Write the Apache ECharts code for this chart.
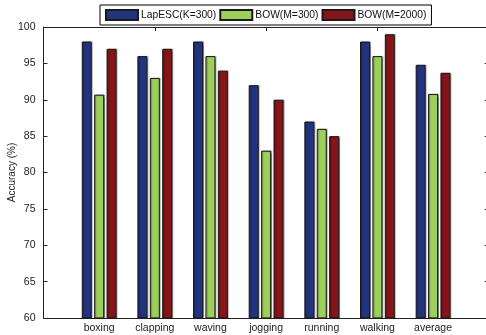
<!DOCTYPE html>
<html>
<head>
<meta charset="utf-8">
<script src="https://cdn.jsdelivr.net/npm/echarts@6/dist/echarts.min.js"></script>
<style>
  html, body { margin: 0; padding: 0; background: #fff; }
  #chart { width: 486px; height: 335px; }
</style>
</head>
<body>
<div id="chart"></div>
<script>
// Action categories (padded with empty slots so ticks sit at 1..7 of 0..8)
const categories = ['boxing', 'clapping', 'waving', 'jogging', 'running', 'walking', 'average'];
const seriesNames = ['LapESC(K=300)', 'BOW(M=300)', 'BOW(M=2000)'];
const lapesc = [98, 96, 98, 92, 87, 98, 94.8];
const bow300 = [90.7, 93, 96, 83, 86, 96, 90.8];
const bow2000 = [97, 97, 94, 90, 85, 99, 93.7];
const yTicks = { min: 60, max: 100, step: 5 };

const colors = ['#22337f', '#9dcf5b', '#861418'];
const font = 'Liberation Sans, Arial, Helvetica, sans-serif';
const axisColor = '#222';

const padded = ['', ...categories, ''];
const pad = arr => ['-', ...arr, '-'];

const chart = echarts.init(document.getElementById('chart'));

const barSeries = [lapesc, bow300, bow2000].map((vals, i) => ({
  name: seriesNames[i],
  type: 'bar',
  data: pad(vals),
  barWidth: 10,
  barGap: '24%',
  itemStyle: {
    color: colors[i],
    borderColor: '#1a1a1a',
    borderWidth: 1,
    shadowColor: 'rgba(0,0,0,0.35)',
    shadowOffsetX: 1,
    shadowOffsetY: 0,
    shadowBlur: 1
  },
  emphasis: { disabled: true },
  animation: false
}));

chart.setOption({
  animation: false,
  textStyle: { fontFamily: font },
  grid: { left: 43.5, right: -2.7, top: 27, bottom: 17, containLabel: false, outerBoundsMode: 'none' },
  legend: {
    left: 100,
    top: 5,
    padding: [4, 5, 4, 5],
    itemGap: 3,
    itemWidth: 32,
    itemHeight: 10,
    borderColor: '#000',
    borderWidth: 1,
    backgroundColor: '#fff',
    textStyle: { fontSize: 10.3, color: '#111', fontFamily: font, padding: [0, 0, 0, -2] },
    icon: 'rect',
    data: seriesNames
  },
  xAxis: [
    {
      type: 'category',
      data: padded,
      boundaryGap: false,
      axisLine: { lineStyle: { color: axisColor, width: 1 } },
      axisTick: { inside: true, length: 4, lineStyle: { color: axisColor } },
      axisLabel: { fontSize: 10.5, color: '#222', margin: 5, interval: 0 },
      splitLine: { show: false }
    },
    {
      type: 'category',
      data: padded,
      boundaryGap: false,
      position: 'top',
      axisLine: { lineStyle: { color: axisColor, width: 1 } },
      axisTick: { inside: true, length: 4, lineStyle: { color: axisColor } },
      axisLabel: { show: false },
      splitLine: { show: false }
    }
  ],
  yAxis: [
    {
      type: 'value',
      min: yTicks.min,
      max: yTicks.max,
      interval: yTicks.step,
      name: 'Accuracy (%)',
      nameLocation: 'middle',
      nameGap: 26,
      nameMoveOverlap: false,
      nameTextStyle: { fontSize: 10, color: '#222' },
      axisLine: { show: true, lineStyle: { color: axisColor, width: 1 } },
      axisTick: { show: true, inside: true, length: 4, lineStyle: { color: axisColor } },
      axisLabel: { fontSize: 10.5, color: '#222', margin: 8 },
      splitLine: { show: false }
    },
    {
      type: 'value',
      min: yTicks.min,
      max: yTicks.max,
      interval: yTicks.step,
      position: 'right',
      axisLine: { show: true, lineStyle: { color: axisColor, width: 1 } },
      axisTick: { show: true, inside: true, length: 4, lineStyle: { color: axisColor } },
      axisLabel: { show: false },
      splitLine: { show: false }
    }
  ],
  series: barSeries
});
</script>
</body>
</html>
